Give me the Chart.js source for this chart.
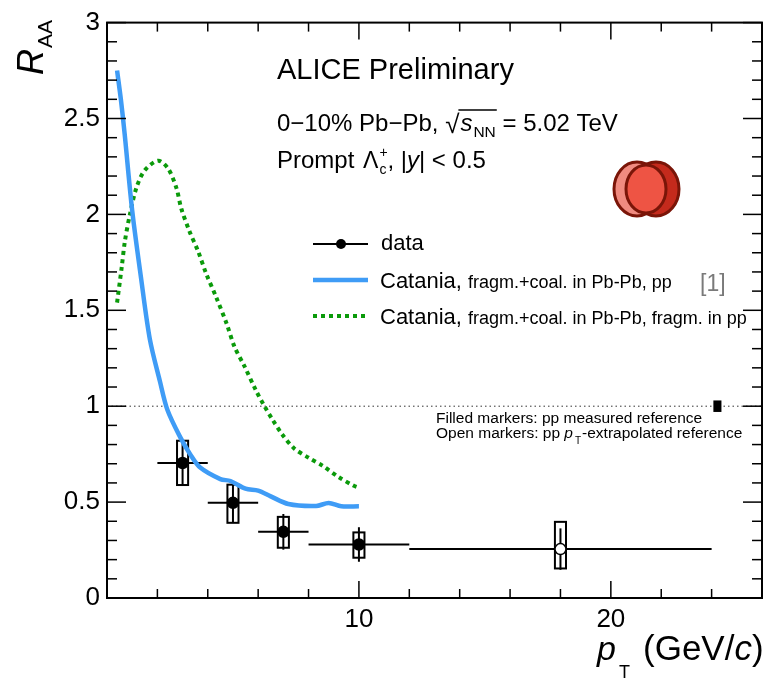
<!DOCTYPE html>
<html lang="en">
<head>
  <meta charset="UTF-8" />
  <title>Prompt Lambda_c RAA, 0-10% Pb-Pb</title>
  <script src="https://cdn.jsdelivr.net/npm/chart.js@4"></script>
  <style>
    html, body { margin: 0; padding: 0; background: #fff; }
    #wrap { width: 769px; height: 678px; }
  </style>
</head>
<body>
  <div id="wrap"><canvas id="raaChart" width="769" height="678"></canvas></div>

  <script>
    // ---- data ----
    const ptCenter = [3, 5, 7, 10, 18];
    const ptLow    = [2, 4, 6, 8, 12];
    const ptHigh   = [4, 6, 8, 12, 24];
    const raa      = [0.704, 0.496, 0.345, 0.279, 0.255];
    const statErr  = [0.12, 0.105, 0.093, 0.09, 0.108];
    const sysUp    = [0.116, 0.095, 0.078, 0.063, 0.142];
    const sysDown  = [0.115, 0.104, 0.083, 0.069, 0.101];
    const measuredRef = [true, true, true, true, false];

    // normalisation uncertainty around unity
    const normPt = 24.23;
    const normUnc = 0.03;

    // Catania, fragm.+coal. in Pb-Pb, pp
    const cataniaPt  = [0.4, 0.55, 0.7, 1.0, 1.35, 1.7, 2.1, 2.4, 2.9, 3.3, 3.7, 4.5, 4.9, 5.5, 6.0, 6.5, 7.2, 8.3, 8.8, 9.3, 10.0];
    const cataniaRaa = [2.75, 2.6, 2.42, 2.02, 1.67, 1.35, 1.13, 0.98, 0.84, 0.75, 0.68, 0.62, 0.61, 0.57, 0.56, 0.53, 0.49, 0.48, 0.495, 0.478, 0.478];

    // Catania, fragm.+coal. in Pb-Pb, fragm. in pp
    const cataniaFragPt  = [0.4, 0.58, 0.71, 0.91, 1.17, 1.5, 2.03, 2.42, 2.75, 2.95, 3.28, 3.61, 3.94, 4.33, 4.75, 5.06, 5.45, 5.92, 6.25, 6.57, 6.97, 7.43, 8.02, 8.55, 9.2, 9.8, 10.0];
    const cataniaFragRaa = [1.54, 1.72, 1.86, 2.0, 2.14, 2.23, 2.28, 2.24, 2.14, 2.03, 1.91, 1.81, 1.69, 1.57, 1.43, 1.31, 1.21, 1.08, 1.0, 0.93, 0.85, 0.78, 0.73, 0.69, 0.63, 0.585, 0.575];

    const xTickValues = [10, 20];
    const yTickValues = [0, 0.5, 1, 1.5, 2, 2.5, 3];

    const FONT = "'Liberation Sans', Arial, Helvetica, sans-serif";
    const BLUE = "#3f9cf6";
    const GREEN = "#0a9a0a";
    const BOX_HALF = 0.22;   // half width of syst. boxes in GeV/c
    const NORM_HALF = 0.16;

    Chart.defaults.font.family = FONT;
    Chart.defaults.color = "#000";

    function seg(ctx, text, x, y, size, italic, color) {
      ctx.font = (italic ? "italic " : "") + size + "px " + FONT;
      ctx.fillStyle = color || "#000";
      ctx.fillText(text, x, y);
      return x + ctx.measureText(text).width;
    }

    function line(ctx, x0, y0, x1, y1) {
      ctx.beginPath();
      ctx.moveTo(x0, y0);
      ctx.lineTo(x1, y1);
      ctx.stroke();
    }

    // error bars, syst. boxes, unity line (under the curves)
    const errorPlugin = {
      id: "errors",
      beforeDatasetsDraw(chart) {
        const ctx = chart.ctx, xs = chart.scales.x, ys = chart.scales.y, a = chart.chartArea;
        ctx.save();

        ctx.strokeStyle = "#333";
        ctx.lineWidth = 1;
        ctx.setLineDash([1.5, 3]);
        line(ctx, a.left, ys.getPixelForValue(1), a.right, ys.getPixelForValue(1));
        ctx.setLineDash([]);

        ctx.strokeStyle = "#000";
        ctx.lineWidth = 2;
        for (let i = 0; i < ptCenter.length; i++) {
          const xc = xs.getPixelForValue(ptCenter[i]);
          const yc = ys.getPixelForValue(raa[i]);
          line(ctx, xs.getPixelForValue(ptLow[i]), yc, xs.getPixelForValue(ptHigh[i]), yc);
          line(ctx, xc, ys.getPixelForValue(raa[i] + statErr[i]), xc, ys.getPixelForValue(raa[i] - statErr[i]));
          const x0 = xs.getPixelForValue(ptCenter[i] - BOX_HALF);
          const x1 = xs.getPixelForValue(ptCenter[i] + BOX_HALF);
          const y0 = ys.getPixelForValue(raa[i] + sysUp[i]);
          const y1 = ys.getPixelForValue(raa[i] - sysDown[i]);
          ctx.strokeRect(x0, y0, x1 - x0, y1 - y0);
        }

        ctx.fillStyle = "#000";
        const nx0 = xs.getPixelForValue(normPt - NORM_HALF);
        const nx1 = xs.getPixelForValue(normPt + NORM_HALF);
        const ny0 = ys.getPixelForValue(1 + normUnc);
        const ny1 = ys.getPixelForValue(1 - normUnc);
        ctx.fillRect(nx0, ny0, nx1 - nx0, ny1 - ny0);
        ctx.restore();
      }
    };

    // frame, inward ticks, texts, legend, logo
    const decorPlugin = {
      id: "decor",
      afterDraw(chart) {
        const ctx = chart.ctx, xs = chart.scales.x, ys = chart.scales.y, a = chart.chartArea;
        ctx.save();
        ctx.strokeStyle = "#000";

        ctx.lineWidth = 1.5;
        for (let k = 0; k <= 30; k++) {
          const y = ys.getPixelForValue(k / 10);
          const len = k % 5 === 0 ? 19 : 10;
          line(ctx, a.left, y, a.left + len, y);
          line(ctx, a.right, y, a.right - len, y);
        }
        for (let v = 0; v <= 26; v += 2) {
          const x = xs.getPixelForValue(v);
          const len = v % 10 === 0 ? 17 : 9;
          line(ctx, x, a.bottom, x, a.bottom - len);
          line(ctx, x, a.top, x, a.top + len);
        }
        ctx.lineWidth = 2;
        ctx.strokeRect(a.left, a.top, a.right - a.left, a.bottom - a.top);

        ctx.textBaseline = "alphabetic";
        ctx.textAlign = "left";

        // axis titles
        let x = 597;
        x = seg(ctx, "p", x, 660, 34, true);
        seg(ctx, "T", 619, 678, 18);
        x = seg(ctx, "(GeV/", 643, 660, 35);
        x = seg(ctx, "c", x, 660, 35, true);
        seg(ctx, ")", x, 660, 35);

        ctx.save();
        ctx.translate(43, 75);
        ctx.rotate(-Math.PI / 2);
        let r = seg(ctx, "R", 0, 0, 36, true);
        seg(ctx, "AA", r + 1, 9, 21);
        ctx.restore();

        // header texts
        seg(ctx, "ALICE Preliminary", 277, 79, 29);
        x = seg(ctx, "0\u221210% Pb\u2212Pb, ", 277, 131, 24);
        x = seg(ctx, "\u221A", x, 133, 26);
        const sx = x;
        x = seg(ctx, "s", x + 1, 131, 24, true);
        x = seg(ctx, "NN", x + 1, 137, 15.5);
        ctx.lineWidth = 1.3;
        line(ctx, sx - 1, 110, x + 1, 110);
        seg(ctx, " = 5.02 TeV", x, 131, 24);

        x = seg(ctx, "Prompt ", 277, 168, 24);
        x = seg(ctx, "\u039B", x + 2, 168, 23);
        seg(ctx, "+", x + 1, 157, 14);
        x = seg(ctx, "c", x + 1, 174, 14);
        x = seg(ctx, ", |", x + 1, 168, 24);
        x = seg(ctx, "y", x, 168, 24, true);
        seg(ctx, "| < 0.5", x, 168, 24);

        // legend
        ctx.lineWidth = 2;
        ctx.strokeStyle = "#000";
        line(ctx, 313, 244, 368, 244);
        ctx.fillStyle = "#000";
        ctx.beginPath();
        ctx.arc(341, 244, 5, 0, Math.PI * 2);
        ctx.fill();
        seg(ctx, "data", 381, 250, 22);

        ctx.lineWidth = 4.5;
        ctx.strokeStyle = BLUE;
        line(ctx, 313, 280, 368, 280);
        x = seg(ctx, "Catania, ", 380, 288, 22);
        seg(ctx, "fragm.+coal. in Pb-Pb, pp", x, 288, 18);
        seg(ctx, "[1]", 700, 291, 23, false, "#7a7a7a");

        ctx.lineWidth = 4;
        ctx.strokeStyle = GREEN;
        ctx.setLineDash([4, 4]);
        line(ctx, 313, 316, 368, 316);
        ctx.setLineDash([]);
        x = seg(ctx, "Catania, ", 380, 324, 22);
        seg(ctx, "fragm.+coal. in Pb-Pb, fragm. in pp", x, 324, 18);

        // note on references
        seg(ctx, "Filled markers: pp measured reference", 436, 423, 15.5);
        x = seg(ctx, "Open markers: pp ", 436, 438, 15.5);
        x = seg(ctx, "p", x, 438, 15.5, true);
        x = seg(ctx, "T", x + 2, 444, 10);
        seg(ctx, "-extrapolated reference", x + 1, 438, 15.5);

        // ALICE logo
        ctx.lineWidth = 3;
        ctx.strokeStyle = "#7a1508";
        ctx.fillStyle = "#f08b80";
        ctx.beginPath(); ctx.ellipse(637, 189, 23, 27, 0, 0, Math.PI * 2); ctx.fill(); ctx.stroke();
        ctx.fillStyle = "#c42a1c";
        ctx.beginPath(); ctx.ellipse(656, 189, 23, 27, 0, 0, Math.PI * 2); ctx.fill(); ctx.stroke();
        ctx.fillStyle = "#ee5444";
        ctx.beginPath(); ctx.ellipse(646, 189, 20, 24, 0, 0, Math.PI * 2); ctx.fill(); ctx.stroke();

        ctx.restore();
      }
    };

    const dataPoints = ptCenter.map((pt, i) => ({ x: pt, y: raa[i] }));

    new Chart(document.getElementById("raaChart"), {
      type: "scatter",
      data: {
        datasets: [
          {
            label: "data",
            data: dataPoints,
            order: 0,
            pointRadius: 5.5,
            pointBorderWidth: 1.5,
            pointBorderColor: "#000",
            pointBackgroundColor: measuredRef.map(m => m ? "#000" : "#fff")
          },
          {
            label: "Catania, fragm.+coal. in Pb-Pb, pp",
            data: cataniaPt.map((pt, i) => ({ x: pt, y: cataniaRaa[i] })),
            order: 1,
            showLine: true,
            pointRadius: 0,
            borderColor: BLUE,
            borderWidth: 4.5,
            tension: 0.3
          },
          {
            label: "Catania, fragm.+coal. in Pb-Pb, fragm. in pp",
            data: cataniaFragPt.map((pt, i) => ({ x: pt, y: cataniaFragRaa[i] })),
            order: 2,
            showLine: true,
            pointRadius: 0,
            borderColor: GREEN,
            borderWidth: 4,
            borderDash: [4, 4],
            tension: 0.3
          }
        ]
      },
      options: {
        responsive: false,
        animation: false,
        layout: { padding: { left: 0, top: 21, right: 5, bottom: 0 } },
        plugins: {
          legend: { display: false },
          tooltip: { enabled: false }
        },
        scales: {
          x: {
            type: "linear",
            min: 0,
            max: 26,
            grid: { display: false, drawTicks: false },
            border: { display: false },
            afterBuildTicks: scale => { scale.ticks = xTickValues.map(v => ({ value: v })); },
            afterFit: scale => { scale.height = 80; },
            ticks: { font: { size: 26 }, color: "#000", padding: 6, maxRotation: 0, callback: v => String(v) }
          },
          y: {
            type: "linear",
            min: 0,
            max: 3,
            grid: { display: false, drawTicks: false },
            border: { display: false },
            afterBuildTicks: scale => { scale.ticks = yTickValues.map(v => ({ value: v })); },
            afterFit: scale => { scale.width = 107; },
            ticks: { font: { size: 26 }, color: "#000", padding: 7, callback: v => String(v) }
          }
        }
      },
      plugins: [errorPlugin, decorPlugin]
    });
  </script>
</body>
</html>
